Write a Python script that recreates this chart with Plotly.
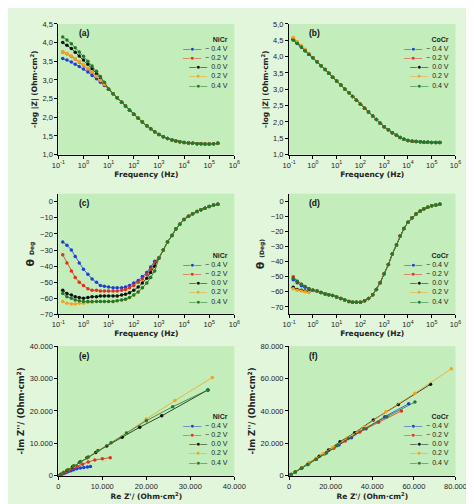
import plotly.graph_objects as go

# frequencies (Hz)
freq = [0.15, 0.22, 0.33, 0.47, 0.68,
        1, 1.5, 2.2, 3.3, 4.7, 6.8,
        10, 15, 22, 33, 47, 68,
        100, 150, 220, 330, 470, 680,
        1e3, 1.5e3, 2.2e3, 3.3e3, 4.7e3, 6.8e3,
        1e4, 1.5e4, 2.2e4, 3.3e4, 4.7e4, 6.8e4,
        1e5, 1.5e5, 2.2e5]

labels = ["\u2212 0.4 V", "\u2212 0.2 V", "0.0 V", "0.2 V", "0.4 V"]
colors = ["#1d3fd8", "#e2301c", "#111111", "#f2a41e", "#1f7a2c"]

freq_tickvals = [0.1, 1, 10, 100, 1e3, 1e4, 1e5, 1e6]
freq_ticktext = ["10<sup>-1</sup>", "10<sup>0</sup>", "10<sup>1</sup>", "10<sup>2</sup>",
                 "10<sup>3</sup>", "10<sup>4</sup>", "10<sup>5</sup>", "10<sup>6</sup>"]

# (a) NiCr log|Z|
nicr_mag_tail = [2.75, 2.63, 2.52, 2.40, 2.30, 2.19, 2.08, 1.97, 1.87, 1.77, 1.69, 1.61,
                 1.54, 1.48, 1.43, 1.39, 1.36, 1.34, 1.32, 1.31, 1.30, 1.29, 1.29, 1.28,
                 1.28, 1.29, 1.30]
nicr_mag = [
    [3.57, 3.53, 3.48, 3.42, 3.36, 3.29, 3.21, 3.12, 3.03, 2.94, 2.85] + nicr_mag_tail,
    [3.75, 3.70, 3.63, 3.56, 3.48, 3.40, 3.30, 3.20, 3.09, 2.98, 2.87] + nicr_mag_tail,
    [4.00, 3.93, 3.84, 3.74, 3.64, 3.53, 3.42, 3.30, 3.17, 3.04, 2.90] + nicr_mag_tail,
    [3.76, 3.71, 3.64, 3.57, 3.49, 3.41, 3.31, 3.21, 3.10, 2.99, 2.88] + nicr_mag_tail,
    [4.15, 4.07, 3.97, 3.86, 3.75, 3.63, 3.50, 3.37, 3.23, 3.09, 2.94] + nicr_mag_tail,
]

# (b) CoCr log|Z|
cocr_mag_tail = [3.96, 3.84, 3.72, 3.60, 3.49, 3.37, 3.25, 3.13, 3.01, 2.89, 2.78, 2.66,
                 2.54, 2.42, 2.30, 2.18, 2.07, 1.96, 1.85, 1.76, 1.67, 1.59, 1.52, 1.47,
                 1.43, 1.41, 1.40, 1.39, 1.38, 1.38, 1.37, 1.37, 1.37]
cocr_mag = [
    [4.53, 4.42, 4.30, 4.19, 4.07] + cocr_mag_tail,
    [4.56, 4.44, 4.32, 4.20, 4.08] + cocr_mag_tail,
    [4.52, 4.41, 4.29, 4.18, 4.07] + cocr_mag_tail,
    [4.58, 4.46, 4.34, 4.22, 4.09] + cocr_mag_tail,
    [4.50, 4.40, 4.29, 4.18, 4.07] + cocr_mag_tail,
]

# (c) NiCr phase
nicr_ph_tail = [-35, -30, -25, -21, -17, -14, -11, -9, -7.5, -6, -5, -4, -3, -2, -1.5]
nicr_ph = [
    [-25, -27, -30, -34, -38, -42, -45, -48, -50, -52, -52.5, -53, -53.5, -53.5, -53.5,
     -53, -52, -50.5, -49, -46.5, -44, -40.5, -37] + nicr_ph_tail,
    [-33, -38, -43, -47, -50, -52, -54, -55, -55, -55.5, -55.5, -55.5, -55.5, -55.5, -55,
     -54.5, -53.5, -52, -50, -48, -45, -42, -38] + nicr_ph_tail,
    [-55, -57, -58, -59, -59.5, -60, -59.5, -59, -59, -58.5, -58.5, -58.5, -58.5, -58.5,
     -58, -57.5, -56.5, -55, -53, -50.5, -47.5, -44, -40] + nicr_ph_tail,
    [-62, -63, -63.5, -63.5, -63, -63, -62.5, -62.5, -62, -62, -62, -62, -62, -61.5,
     -61, -60.5, -59.5, -58, -56, -53.5, -50.5, -47, -43] + nicr_ph_tail,
    [-57, -59, -60, -61, -61.5, -62, -62, -62, -62, -62, -62, -62, -62, -61.5,
     -61, -60.5, -59.5, -58, -56, -53.5, -50.5, -47, -43] + nicr_ph_tail,
]

# (d) CoCr phase
cocr_ph_tail = [-59, -59.5, -60.5, -61.5, -62, -62.5, -63.5, -64.5, -65.5, -66.5, -67, -67,
                -67, -66, -64.5, -62, -58.5, -54, -48, -42, -35, -29, -23, -18, -14, -11,
                -8.5, -6.5, -5, -4, -3, -2.5, -2]
cocr_ph = [
    [-52, -54, -56, -57, -58] + cocr_ph_tail,
    [-50, -53, -55, -56.5, -58] + cocr_ph_tail,
    [-57, -58.5, -59, -59.5, -60] + cocr_ph_tail,
    [-58, -59, -59.5, -60, -60.5] + cocr_ph_tail,
    [-51, -53, -55, -56.5, -58] + cocr_ph_tail,
]

# (e) NiCr Nyquist
nicr_re = [
    [200, 500, 900, 1300, 1800, 2300, 2900, 3500, 4200, 5000, 5800, 6600, 7300],
    [300, 700, 1200, 1800, 2500, 3300, 4300, 5500, 6800, 8300, 10000, 11800],
    [500, 1200, 2000, 3200, 4800, 6500, 8500, 11000, 14500, 18500, 23500, 34000],
    [500, 1200, 2200, 3500, 5000, 6800, 9000, 12000, 15500, 20000, 26500, 35000],
    [500, 1200, 2200, 3500, 5000, 6800, 9000, 12000, 15500, 20000, 26000, 34000],
]
nicr_im = [
    [100, 300, 500, 700, 1000, 1300, 1600, 1900, 2150, 2400, 2600, 2750, 2850],
    [200, 500, 900, 1300, 1800, 2300, 2900, 3600, 4300, 4900, 5300, 5600],
    [400, 1000, 1700, 2700, 4100, 5600, 7200, 9200, 11900, 15000, 18500, 26500],
    [400, 1000, 1900, 3000, 4300, 5800, 7700, 10200, 13200, 17500, 23200, 30300],
    [400, 1000, 1900, 3100, 4400, 5800, 7800, 10200, 13200, 17000, 21300, 26500],
]

# (f) CoCr Nyquist
cocr_re = [
    [1000, 3000, 6000, 9000, 13000, 18000, 24000, 30000, 37000, 46000, 57500],
    [1000, 3000, 6000, 9000, 13000, 17000, 21500, 27000, 34000, 43000, 54000],
    [1000, 3000, 6000, 9500, 14500, 19000, 24500, 31500, 40500, 52500, 68000],
    [1000, 3000, 6000, 9500, 13000, 16500, 21000, 28000, 36000, 46500, 60500, 78000],
    [1000, 3000, 6000, 9000, 13000, 18000, 23000, 28500, 36000, 47000, 60500],
]
cocr_im = [
    [800, 2300, 4700, 7000, 10200, 14200, 19000, 23500, 29000, 36500, 44500],
    [800, 2300, 4700, 7000, 10200, 13500, 17000, 21500, 27000, 33000, 40000],
    [800, 2400, 4900, 7800, 12100, 16000, 21000, 26500, 34500, 44000, 56500],
    [800, 2400, 4900, 7800, 10800, 13800, 17500, 23500, 30000, 39500, 51000, 66000],
    [800, 2300, 4700, 7000, 10200, 14200, 18500, 23000, 29000, 36500, 45500],
]

fig = go.Figure()

xl = [0.095, 0.481]
xr = [0.601, 0.966]
rows = [[0.712, 0.976], [0.389, 0.633], [0.063, 0.325]]

panels = [
    ("x", "y", xl, rows[0], "(a)", "NiCr"),
    ("x2", "y2", xr, rows[0], "(b)", "CoCr"),
    ("x3", "y3", xl, rows[1], "(c)", "NiCr"),
    ("x4", "y4", xr, rows[1], "(d)", "CoCr"),
    ("x5", "y5", xl, rows[2], "(e)", "NiCr"),
    ("x6", "y6", xr, rows[2], "(f)", "CoCr"),
]
ydata = [nicr_mag, cocr_mag, nicr_ph, cocr_ph, nicr_im, cocr_im]
xdata = [None, None, None, None, nicr_re, cocr_re]

for p, (xa, ya, xd, yd, tag, alloy) in enumerate(panels):
    for i in range(5):
        xs = freq if xdata[p] is None else xdata[p][i]
        fig.add_trace(go.Scatter(
            x=xs, y=ydata[p][i], xaxis=xa, yaxis=ya, mode="lines+markers",
            name=labels[i], showlegend=False,
            line=dict(color=colors[i], width=0.8),
            marker=dict(color=colors[i], size=3.5),
        ))

axis_style = dict(showline=True, linecolor="black", linewidth=1, ticks="outside",
                  ticklen=3, tickcolor="black", showgrid=False, zeroline=False,
                  tickfont=dict(size=7.5, color="#222"), mirror=False)
title_font = dict(size=7.5, color="#222", family="Arial Black, DejaVu Sans")

lay = dict(
    width=474, height=504, margin=dict(l=0, r=0, t=0, b=0),
    paper_bgcolor="#e2f6dc", plot_bgcolor="#c3eebb",
    font=dict(family="Arial, Liberation Sans, sans-serif", color="#222"),
    separators=",.", showlegend=False,
)

for p, (xa, ya, xd, yd, tag, alloy) in enumerate(panels):
    xk = "xaxis" + xa[1:]
    yk = "yaxis" + ya[1:]
    if p < 4:
        lay[xk] = dict(axis_style, domain=xd, anchor=ya, type="log", range=[-1, 6],
                       tickvals=freq_tickvals, ticktext=freq_ticktext,
                       title=dict(text="<b>Frequency (Hz)</b>", font=title_font, standoff=2))
    elif p == 4:
        lay[xk] = dict(axis_style, domain=xd, anchor=ya, range=[0, 40000], dtick=10000,
                       tickformat=",d",
                       title=dict(text="<b>Re Z'/ (Ohm·cm<sup>2</sup>)</b>", font=title_font, standoff=2))
    else:
        lay[xk] = dict(axis_style, domain=xd, anchor=ya, range=[0, 80000], dtick=20000,
                       tickformat=",d",
                       title=dict(text="<b>Re Z'/ (Ohm·cm<sup>2</sup>)</b>", font=title_font, standoff=2))
    if p == 0:
        ycfg = dict(range=[1, 4.5], dtick=0.5, tickformat=".1f",
                    title="<b>-log |Z| (Ohm·cm<sup>2</sup>)</b>")
    elif p == 1:
        ycfg = dict(range=[1, 5], dtick=0.5, tickformat=".1f",
                    title="<b>-log |Z| (Ohm·cm<sup>2</sup>)</b>")
    elif p == 2:
        ycfg = dict(range=[-70, 5], tickvals=[-70, -60, -50, -40, -30, -20, -10, 0],
                    title="<b>θ <span style='font-size:6px'>Deg</span></b>")
    elif p == 3:
        ycfg = dict(range=[-75, 5], tickvals=[-70, -60, -50, -40, -30, -20, -10, 0],
                    title="<b>θ <span style='font-size:6px'>(Deg)</span></b>")
    elif p == 4:
        ycfg = dict(range=[0, 40000], dtick=10000, tickformat=",d",
                    title="<b>-Im Z''/ (Ohm·cm<sup>2</sup>)</b>")
    else:
        ycfg = dict(range=[0, 80000], dtick=20000, tickformat=",d",
                    title="<b>-Im Z''/ (Ohm·cm<sup>2</sup>)</b>")
    ytitle = ycfg.pop("title")
    if p >= 4:
        ytf = dict(title_font, size=8.5)
    elif p >= 2:
        ytf = dict(title_font, size=11)
    else:
        ytf = title_font
    lay[yk] = dict(axis_style, domain=yd, anchor=xa, **ycfg,
                   title=dict(text=ytitle, font=ytf, standoff=3))

fig.update_layout(**lay)

# compact legends as text blocks
for p, (xa, ya, xd, yd, tag, alloy) in enumerate(panels):
    fig.add_annotation(text="<b>" + tag + "</b>", xref="paper", yref="paper",
                       x=xd[0] + 0.04, y=yd[1] - 0.005, xanchor="left", yanchor="top",
                       showarrow=False, font=dict(size=8.5, color="#111"))
    lines = ["<b>" + alloy + "</b>"]
    for i in range(5):
        lines.append("<span style='color:%s'>—●—</span>  %s" % (colors[i], labels[i]))
    if p < 2:
        ly, yanc = yd[1] - 0.02, "top"
    else:
        ly, yanc = yd[0] + 0.015, "bottom"
    fig.add_annotation(text="<br>".join(lines), xref="paper", yref="paper",
                       x=xd[1] - 0.01, y=ly, xanchor="right", yanchor=yanc,
                       align="right", showarrow=False,
                       font=dict(size=7, color="#222"))

fig.write_html("out.html")
